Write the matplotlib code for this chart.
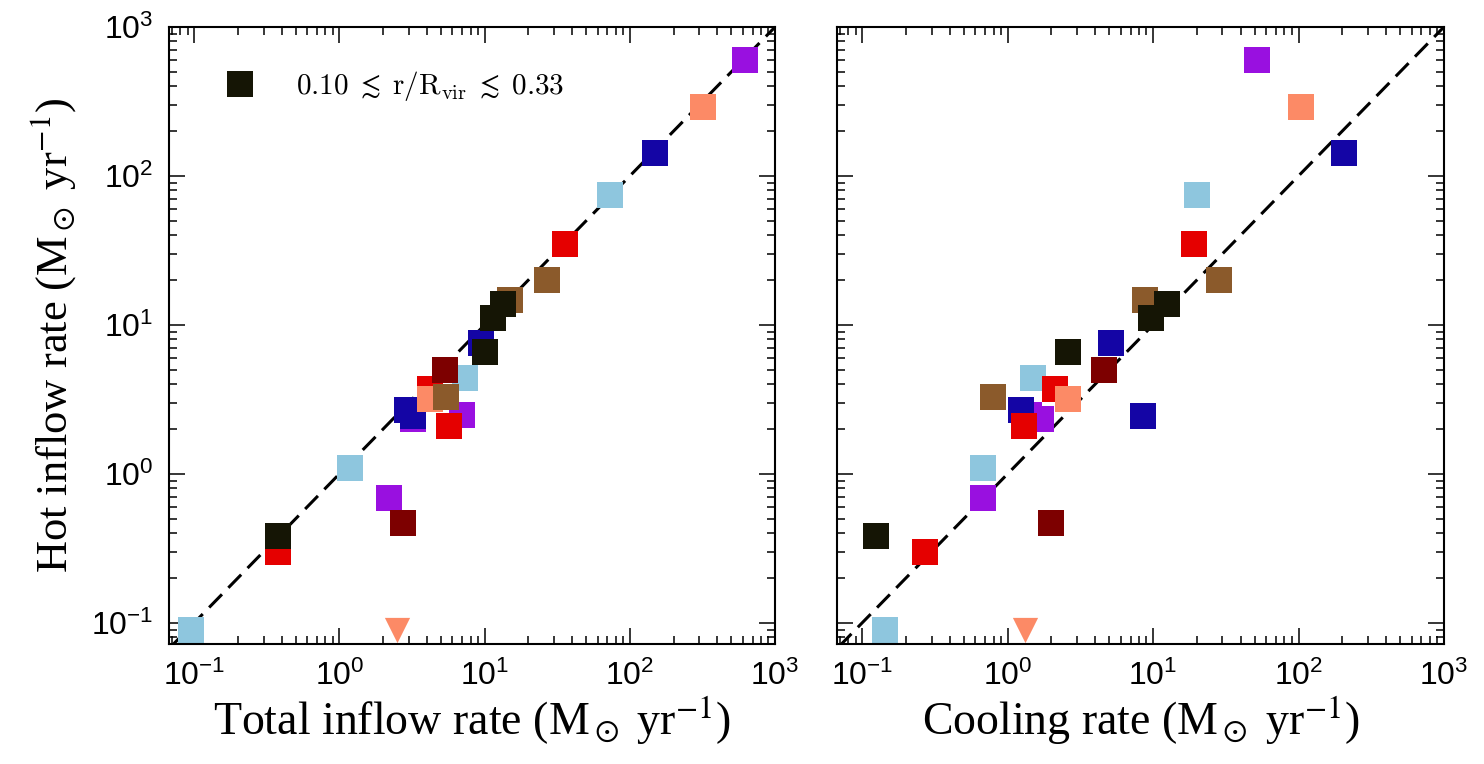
import matplotlib
matplotlib.use("Agg")
import matplotlib.pyplot as plt
from matplotlib.lines import Line2D

# Hot inflow rate against total inflow rate (left) and cooling rate (right), Msun/yr
# one entry per halo, listed in drawing order
colorNames = {
    'lightblue': '#8ec6de',
    'purple': '#9910e0',
    'darkblue': '#1405a5',
    'red': '#e50000',
    'salmon': '#fc8a66',
    'darkred': '#7d0000',
    'brown': '#8b5a2b',
    'black': '#151505',
}

pointColor = ['lightblue', 'lightblue', 'lightblue', 'lightblue',
              'purple', 'purple', 'purple', 'purple',
              'darkblue', 'darkblue', 'darkblue', 'darkblue',
              'red', 'red', 'red', 'red',
              'salmon', 'salmon',
              'darkred', 'darkred',
              'brown', 'brown', 'brown',
              'black', 'black', 'black', 'black']
totalInflow = [73, 7.3, 1.19, 0.095,
               617, 7.0, 3.2, 2.2,
               148, 9.5, 2.93, 3.2,
               36, 4.2, 5.7, 0.38,
               318, 4.2,
               5.3, 2.75,
               27, 15, 5.4,
               13.4, 11.4, 10, 0.38]
coolingRate = [20, 1.5, 0.68, 0.144,
               52, 1.4, 1.7, 0.68,
               204, 5.1, 1.23, 8.5,
               19, 2.1, 1.29, 0.27,
               104, 2.6,
               4.6, 2.0,
               28.5, 8.8, 0.79,
               12.5, 9.7, 2.6, 0.125]
hotInflow = [74, 4.4, 1.1, 0.09,
             600, 2.5, 2.35, 0.69,
             143, 7.6, 2.69, 2.45,
             35, 3.7, 2.1, 0.30,
             290, 3.2,
             5.0, 0.47,
             20, 14.7, 3.3,
             13.8, 11.1, 6.6, 0.38]

# upper limit (no hot inflow detected), drawn as a triangle at the bottom
limitTotal = [2.5]
limitCooling = [1.31]
limitHot = [0.089]
limitColor = 'salmon'

legendLabel = r'$0.10\;\lesssim\;\mathrm{r/R_{vir}}\;\lesssim\;0.33$'
xLabels = [r'Total inflow rate (M$_\odot$ yr$^{-1}$)', r'Cooling rate (M$_\odot$ yr$^{-1}$)']
yLabel = r'Hot inflow rate (M$_\odot$ yr$^{-1}$)'

plt.rcParams['font.family'] = 'Liberation Sans'

fig = plt.figure(figsize=(14.84, 7.64), dpi=100)
axL = fig.add_axes([0.1139, 0.1571, 0.4084, 0.8076])
axR = fig.add_axes([0.564, 0.1571, 0.409, 0.8076])

pointColors = [colorNames[c] for c in pointColor]

for ax, xVals, limX, xLab in ((axL, totalInflow, limitTotal, xLabels[0]),
                              (axR, coolingRate, limitCooling, xLabels[1])):
    # one-to-one line
    ax.plot([0.01, 1e4], [0.01, 1e4], color='k', lw=2.2, ls=(0, (6, 3)), zorder=1)
    ax.scatter(xVals, hotInflow, c=pointColors, marker='s', s=350, linewidths=0, zorder=2)
    ax.scatter(limX, limitHot, c=colorNames[limitColor], marker='v', s=330, linewidths=0, zorder=2)

    ax.set_xscale('log')
    ax.set_yscale('log')
    ax.set_xlim(0.067, 1000)
    ax.set_ylim(0.072, 1000)

    ax.tick_params(which='both', direction='in', top=True, right=True, width=1.1)
    ax.tick_params(which='major', length=11.5, labelsize=23)
    ax.tick_params(axis='x', which='major', pad=12)
    ax.tick_params(axis='y', which='major', pad=11)
    ax.tick_params(which='minor', length=5.8)
    for sp in ax.spines.values():
        sp.set_linewidth(1.5)

    ax.set_xlabel(xLab, fontsize=33, family='Liberation Serif', math_fontfamily='stix', labelpad=2)

axR.tick_params(labelleft=False)
axL.set_ylabel(yLabel, fontsize=32, family='Liberation Serif', math_fontfamily='stix', labelpad=10)

handle = Line2D([], [], marker='s', ls='none', color=colorNames['black'], ms=18.7, mew=0)
leg = axL.legend([handle], [legendLabel], loc='upper left', frameon=False, fontsize=21,
                 bbox_to_anchor=(0.05, 0.95), borderaxespad=0, handletextpad=0.9)
leg.get_texts()[0].set_math_fontfamily('cm')

plt.savefig("out.png", dpi=100)
